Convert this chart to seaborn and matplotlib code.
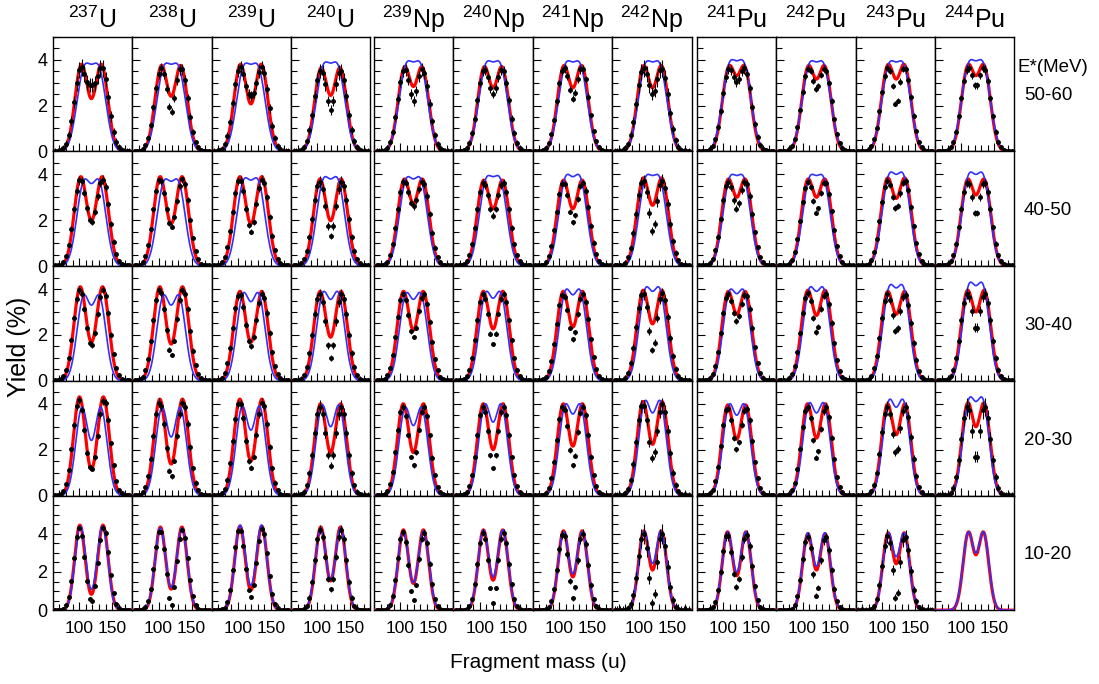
import numpy as np
import matplotlib
matplotlib.use("Agg")
import matplotlib.pyplot as plt
import seaborn as sns
from matplotlib.ticker import MultipleLocator, FixedLocator, NullFormatter

# ---------------- data ----------------
nuclei_mass = [237, 238, 239, 240, 239, 240, 241, 242, 241, 242, 243, 244]
nuclei_elem = ["U", "U", "U", "U", "Np", "Np", "Np", "Np", "Pu", "Pu", "Pu", "Pu"]
energy_bins = ["50-60", "40-50", "30-40", "20-30", "10-20"]
x_tick_values = [100, 150]
x_tick_labels = ["100", "150"]
y_tick_values = [0, 2, 4]
y_tick_labels = ["0", "2", "4"]

# peak / valley heights (%) of the model curves, rows = energy bins (top->bottom)
red_peak = [
    [3.80, 3.75, 3.80, 3.65, 3.70, 3.70, 3.75, 3.75, 3.75, 3.75, 3.80, 3.80],
    [3.90, 3.90, 3.90, 3.80, 3.80, 3.75, 3.75, 3.85, 3.80, 3.80, 3.85, 3.80],
    [4.10, 4.10, 3.90, 3.90, 3.90, 3.90, 3.90, 3.95, 3.90, 3.95, 3.90, 3.95],
    [4.30, 4.20, 4.20, 4.00, 4.00, 4.00, 4.00, 4.10, 3.95, 4.00, 4.00, 4.05],
    [4.45, 4.35, 4.40, 4.35, 4.20, 4.20, 4.15, 4.15, 4.10, 4.00, 4.05, 4.10],
]
red_valley = [
    [2.30, 2.40, 2.07, 2.44, 2.83, 2.77, 2.77, 2.77, 3.30, 3.15, 3.15, 3.30],
    [1.98, 1.84, 1.84, 1.98, 2.72, 2.50, 2.50, 2.65, 3.00, 3.00, 2.95, 3.10],
    [1.68, 1.60, 1.68, 1.90, 2.20, 2.26, 2.34, 2.48, 2.90, 2.85, 2.90, 3.00],
    [1.15, 1.37, 1.50, 1.87, 1.87, 2.00, 2.15, 2.23, 2.45, 2.50, 2.65, 3.00],
    [0.83, 1.10, 1.05, 1.53, 1.40, 1.57, 1.74, 2.10, 1.80, 2.10, 2.43, 2.90],
]
blue_peak = [
    [3.85, 3.85, 3.85, 3.90, 3.95, 3.95, 3.95, 3.95, 4.00, 3.95, 3.95, 4.00],
    [3.80, 3.80, 3.85, 3.90, 3.90, 3.95, 4.00, 4.00, 4.00, 4.00, 4.10, 4.10],
    [3.75, 3.75, 3.85, 3.90, 3.85, 3.90, 4.00, 4.10, 4.00, 4.10, 4.20, 4.30],
    [3.85, 3.85, 3.90, 3.95, 3.85, 4.00, 4.00, 4.15, 4.00, 4.05, 4.20, 4.30],
    [4.40, 4.30, 4.45, 4.30, 4.15, 4.20, 4.10, 4.15, 4.10, 4.05, 4.05, 4.10],
]
blue_valley = [
    [3.80, 3.80, 3.80, 3.85, 3.90, 3.90, 3.90, 3.90, 3.95, 3.90, 3.90, 3.95],
    [3.60, 3.70, 3.75, 3.80, 3.80, 3.90, 3.90, 3.95, 3.95, 3.95, 4.00, 4.00],
    [3.30, 3.30, 3.45, 3.55, 3.55, 3.60, 3.75, 3.90, 3.80, 3.90, 4.05, 4.15],
    [2.40, 2.55, 2.85, 3.00, 3.05, 3.20, 3.55, 3.60, 3.50, 3.60, 3.85, 4.10],
    [1.10, 1.20, 1.30, 1.60, 1.45, 1.75, 1.90, 2.45, 2.00, 2.30, 2.80, 3.00],
]
# widths (u) of the two humps per energy bin
red_sigma = [9.8, 9.8, 9.5, 9.0, 8.0]
blue_sigma = [10.8, 10.4, 9.8, 9.4, 8.2]

# measured points: yield at symmetric split and size of the error bars
data_valley = [
    [2.9, 1.7, 2.4, 1.8, 2.2, 2.5, 2.3, 2.5, 3.0, 2.7, 2.0, 2.8],
    [1.9, 1.7, 1.5, 1.3, 2.6, 2.2, 1.9, 1.5, 2.5, 2.3, 2.5, 2.2],
    [1.5, 1.1, 1.5, 1.0, 1.9, 1.6, 1.8, 1.3, 2.6, 2.1, 2.1, 2.2],
    [1.1, 0.8, 1.2, 1.3, 1.3, 1.2, 1.3, 1.6, 2.0, 1.6, 1.8, 1.5],
    [0.4, 0.25, 0.7, 1.1, 0.5, 0.4, 0.6, 0.3, 1.2, 0.7, 0.5, None],
]
err_size = [
    [0.35, 0.20, 0.25, 0.30, 0.25, 0.20, 0.15, 0.35, 0.20, 0.12, 0.12, 0.15],
    [0.15, 0.12, 0.15, 0.20, 0.15, 0.15, 0.12, 0.25, 0.15, 0.10, 0.12, 0.15],
    [0.12, 0.12, 0.15, 0.20, 0.10, 0.10, 0.10, 0.20, 0.12, 0.12, 0.15, 0.20],
    [0.12, 0.15, 0.15, 0.25, 0.10, 0.10, 0.12, 0.25, 0.12, 0.12, 0.20, 0.35],
    [0.10, 0.08, 0.10, 0.20, 0.15, 0.15, 0.20, 0.50, 0.20, 0.20, 0.35, 0.00],
]
data_masses = list(range(64, 178, 4))

# ---------------- helpers ----------------
def _shape(k):
    x = np.linspace(-k - 4, k + 4, 4001)
    g = np.exp(-(x - k) ** 2 / 2) + np.exp(-(x + k) ** 2 / 2)
    return 2 * np.exp(-k * k / 2) / g.max(), g.max()


def solve(peak, valley):
    r = valley / peak
    if r >= 0.999:
        k = 1.0
    else:
        lo, hi = 1.0, 4.0
        for _ in range(40):
            mid = 0.5 * (lo + hi)
            if _shape(mid)[0] > r:
                lo = mid
            else:
                hi = mid
        k = 0.5 * (lo + hi)
    return k, peak / _shape(k)[1]


def double_hump(m, cen, peak, valley, sigma):
    k, h = solve(peak, valley)
    d = k * sigma
    return h * (np.exp(-(m - cen - d) ** 2 / (2 * sigma ** 2)) +
                np.exp(-(m - cen + d) ** 2 / (2 * sigma ** 2)))


# ---------------- style ----------------
sns.set_theme(style="white")
plt.rcParams["font.family"] = ["Liberation Sans", "DejaVu Sans"]
plt.rcParams["mathtext.default"] = "regular"
plt.rcParams["text.color"] = "black"
plt.rcParams["axes.labelcolor"] = "black"
plt.rcParams["axes.edgecolor"] = "black"
plt.rcParams["axes.linewidth"] = 1.0
plt.rcParams["xtick.color"] = "black"
plt.rcParams["ytick.color"] = "black"
plt.rcParams["xtick.labelcolor"] = "black"
plt.rcParams["ytick.labelcolor"] = "black"

W, H = 1099, 684
fig = plt.figure(figsize=(W / 100, H / 100), dpi=100)
fig.patch.set_facecolor("white")

group_left = [52.7, 374.0, 696.7]
panel_w = 79.4
top0 = 36.7
panel_h = 114.7

m_grid = np.linspace(60, 180, 601)
m_data = np.array(data_masses, dtype=float)

for r in range(5):
    for c in range(12):
        g, j = divmod(c, 4)
        x0 = group_left[g] + j * panel_w
        y0 = top0 + r * panel_h
        ax = fig.add_axes([x0 / W, 1 - (y0 + panel_h) / H, panel_w / W, panel_h / H])
        cen = nuclei_mass[c] / 2.0

        red = double_hump(m_grid, cen, red_peak[r][c], red_valley[r][c], red_sigma[r])
        blue = double_hump(m_grid, cen, blue_peak[r][c], blue_valley[r][c], blue_sigma[r])

        sns.lineplot(x=m_grid, y=red, color="#ff0000", lw=2.3, ax=ax, zorder=3)
        sns.lineplot(x=m_grid, y=blue, color="#3030ff", lw=1.2, ax=ax, zorder=4)

        dv = data_valley[r][c]
        if dv is not None:
            base = double_hump(m_data, cen, red_peak[r][c] * 0.97, red_valley[r][c], red_sigma[r] * 1.06)
            yd = base - (red_valley[r][c] - dv) * np.exp(-(m_data - cen) ** 2 / (2 * 4.5 ** 2))
            yd = np.clip(yd, 0.03, None)
            yerr = err_size[r][c] * (0.25 + 0.75 * yd / 4.0) + 0.04
            ax.errorbar(m_data, yd, yerr=yerr, xerr=0.8, fmt="o", ms=2.5, color="black",
                        mec="black", elinewidth=0.8, capsize=0, zorder=5)

        ax.set_xlim(60, 180)
        ax.set_ylim(0, 6 if r == 4 else 5)
        ax.xaxis.set_major_locator(FixedLocator(x_tick_values))
        ax.xaxis.set_minor_locator(MultipleLocator(10))
        ax.yaxis.set_major_locator(FixedLocator(y_tick_values))
        ax.yaxis.set_minor_locator(MultipleLocator(0.5))
        ax.tick_params(which="both", direction="in", top=False, right=False,
                       bottom=True, left=True, width=0.8)
        ax.tick_params(which="major", length=6)
        ax.tick_params(which="minor", length=4)
        if r == 4:
            ax.set_xticklabels(x_tick_labels)
            ax.tick_params(axis="x", labelsize=12.5, pad=8)
        else:
            ax.xaxis.set_major_formatter(NullFormatter())
        if c == 0:
            ax.set_yticklabels(y_tick_labels)
            ax.tick_params(axis="y", labelsize=13, pad=4)
        else:
            ax.yaxis.set_major_formatter(NullFormatter())
        ax.set_xlabel("")
        ax.set_ylabel("")
        for sp in ax.spines.values():
            sp.set_visible(True)
            sp.set_color("black")
            sp.set_linewidth(1.0)

# column titles
for c in range(12):
    g, j = divmod(c, 4)
    xc = group_left[g] + (j + 0.5) * panel_w
    fig.text(xc / W, 1 - 28 / H, "$^{%d}$%s" % (nuclei_mass[c], nuclei_elem[c]),
             ha="center", va="baseline", fontsize=18, color="black")

# energy labels
fig.text(1053 / W, 1 - 67 / H, "E*(MeV)", ha="center", va="center", fontsize=13.5, color="black")
for r in range(5):
    yc = top0 + (r + 0.5) * panel_h + (1 if r == 0 else 2)
    fig.text(1048 / W, 1 - yc / H, energy_bins[r], ha="center", va="center", fontsize=13.5, color="black")

fig.text(538 / W, 1 - 662 / H, "Fragment mass (u)", ha="center", va="center", fontsize=15, color="black")
fig.text(19 / W, 1 - 347 / H, "Yield (%)", ha="center", va="center", rotation=90, fontsize=18, color="black")

fig.savefig("out.png", dpi=100, facecolor="white")
